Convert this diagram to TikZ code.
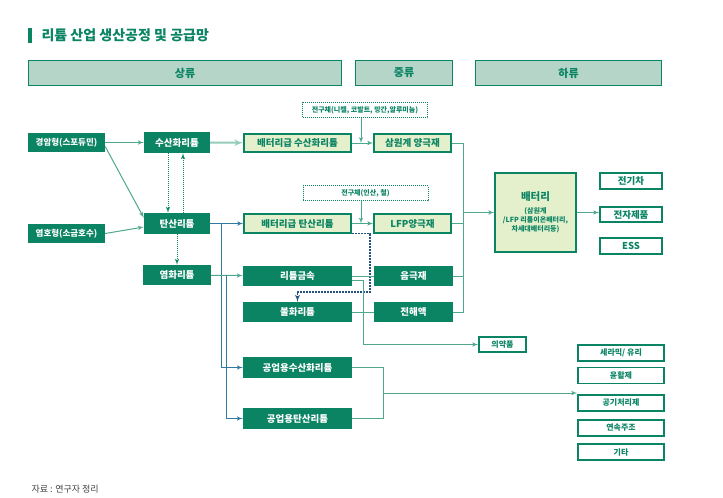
\documentclass[tikz,border=0pt]{standalone}
\usepackage{fontspec}
\setmainfont{Noto Sans CJK KR}
\usepackage{tikz}
\usetikzlibrary{arrows, shapes}

\definecolor{dkgreen}{HTML}{0B8464}
\definecolor{hdfill}{HTML}{B4D5C8}
\definecolor{ltfill}{HTML}{E4EFCB}
\definecolor{lnteal}{HTML}{4FA88E}
\definecolor{lnblue}{HTML}{2F7A9E}
\definecolor{dshblue}{HTML}{24527F}

\begin{document}
\begin{tikzpicture}[x=1pt, y=-1pt, >=latex']
\tikzstyle{dark} = [rectangle, fill=dkgreen, text=white, inner sep=0pt,
    minimum width=109pt, minimum height=20pt, font=\fontsize{9.5}{10}\bfseries]
\tikzstyle{grade} = [rectangle, draw=dkgreen, line width=1.6pt, fill=ltfill, text=dkgreen,
    inner sep=0pt, minimum width=107pt, minimum height=18pt, font=\fontsize{9.5}{10}\bfseries]
\tikzstyle{outbox} = [rectangle, draw=dkgreen, line width=1.6pt, fill=white, text=dkgreen,
    inner sep=0pt, minimum width=62pt, minimum height=16pt, font=\fontsize{9.5}{10}\bfseries]
\tikzstyle{usebox} = [outbox, minimum width=86pt, font=\fontsize{8}{9}\bfseries]
\tikzstyle{header} = [rectangle, draw=dkgreen, line width=1.2pt, fill=hdfill, text=dkgreen,
    inner sep=0pt, minimum height=25pt, font=\fontsize{11}{12}\bfseries]
\tikzstyle{precursor} = [rectangle, draw=dkgreen, densely dotted, line width=1pt, fill=white,
    text=dkgreen, inner sep=0pt, minimum width=125pt, minimum height=15pt,
    font=\fontsize{7}{8}\bfseries]
\tikzstyle{line} = [draw=lnteal, line width=1pt]
\tikzstyle{bline} = [draw=lnblue, line width=1pt]
\tikzstyle{dline} = [draw=dkgreen, densely dotted, line width=1pt]
\tikzstyle{dshline} = [draw=dshblue, dash pattern=on 2pt off 1pt, line width=1.3pt]

\useasboundingbox (0,0) rectangle (723,498);

 \fill [dkgreen] (28,28) rectangle (32,43);
 \node [anchor=west, text=dkgreen, font=\fontsize{14}{16}\bfseries] (title) at (38,35.5)
   {리튬 산업 생산공정 및 공급망};

 \node [header, minimum width=313pt] (up) at (185,73) {상류};
 \node [header, minimum width=97pt] (mid) at (404,73) {중류};
 \node [header, minimum width=186pt] (down) at (568.5,73) {하류};

 \node [dark, minimum width=77pt, minimum height=19pt, font=\fontsize{8.5}{9}\bfseries]
   (rock) at (66.5,142.5) {경암형(스포듀민)};
 \node [dark, minimum width=77pt, minimum height=19pt, font=\fontsize{8.5}{9}\bfseries]
   (brine) at (66.5,233.5) {염호형(소금호수)};

 \node [dark, minimum width=66pt, minimum height=21pt] (hydro) at (177,142.5) {수산화리튬};
 \node [dark, minimum width=66pt, minimum height=21pt] (carb) at (177,223.5) {탄산리튬};
 \node [dark, minimum width=68pt] (chlor) at (177,275) {염화리튬};

 \node [grade] (bathydro) at (297.5,143) {배터리급 수산화리튬};
 \node [grade, minimum height=19pt] (batcarb) at (297.5,223.5) {배터리급 탄산리튬};
 \node [dark] (metal) at (297.5,276) {리튬금속};
 \node [dark] (fluor) at (297.5,312) {불화리튬};
 \node [dark, minimum height=21pt] (indhydro) at (297.5,367.5) {공업용수산화리튬};
 \node [dark, minimum height=21pt] (indcarb) at (297.5,418.5) {공업용탄산리튬};

 \node [precursor] (pre1) at (365,110) {전구체(니켈, 코발트, 망간,알루미늄)};
 \node [precursor] (pre2) at (365.5,193) {전구체(인산, 철)};

 \node [grade, minimum width=77pt] (ncm) at (412.5,143) {삼원계 양극재};
 \node [grade, minimum width=77pt, minimum height=19pt] (lfp) at (412.5,223.5) {LFP양극재};
 \node [dark, minimum width=79pt] (anode) at (413.5,276) {음극재};
 \node [dark, minimum width=79pt] (elyte) at (413.5,312) {전해액};

 \node [grade, minimum width=81pt, minimum height=79pt, align=center] (battery) at (535.5,212.5)
   {{\fontsize{10.5}{12}\bfseries 배터리}\\[3pt]
    {\fontsize{7}{10}\bfseries (삼원계}\\[-1pt]
    {\fontsize{7}{10}\bfseries /LFP 리튬이온배터리,}\\[-1pt]
    {\fontsize{7}{10}\bfseries 차세대배터리등)}};

 \node [outbox] (ev) at (631,181) {전기차};
 \node [outbox, minimum height=15pt] (device) at (631,214.5) {전자제품};
 \node [outbox] (ess) at (631,246) {ESS};

 \node [outbox, minimum width=47pt, minimum height=15pt, font=\fontsize{8}{9}\bfseries]
   (medic) at (502.5,344.5) {의약품};

 \node [usebox] (glass) at (621,353) {세라믹/ 유리};
 \node [usebox] (lube) at (621,375.5) {윤활제};
 \node [usebox] (air) at (621,403) {공기처리제};
 \node [usebox] (cast) at (621,428) {연속주조};
 \node [usebox] (etc) at (621,452) {기타};

 \coordinate (m1) at (361,143);
 \coordinate (m2) at (361,223.5);
 \coordinate (b1) at (221,223.5);
 \coordinate (b2) at (226,275);
 \coordinate (d1) at (370,292);
 \coordinate (j) at (463,212.5);
 \coordinate (k) at (383,393);

 \path [line, ->] (rock) -- (hydro);
 \path [line, ->] ([yshift=-4pt]rock.east) -- ([yshift=-5pt]carb.north west);
 \path [line, ->] (brine.east) -- ([yshift=-3.5pt]carb.west);

 \path [dline, ->] ([xshift=-9pt]hydro.south) -- ([xshift=-9pt]carb.north);
 \path [dline, ->] ([xshift=6pt]carb.north) -- ([xshift=6pt]hydro.south);
 \path [dline, ->] (carb) -- (chlor);

 \path [draw=lnteal!60, line width=2pt, ->] (hydro) -- (bathydro);
 \path [line, ->] (bathydro) -- (ncm);
 \path [line, ->] (pre1.south -| m1) -- (m1);

 \path [bline, ->] (carb) -- (batcarb);
 \path [line, ->] (batcarb) -- (lfp);
 \path [line, ->] (pre2.south -| m2) -- (m2);

 \path [bline, ->] (b1) |- (indhydro.west);
 \path [line, ->] (chlor) -- (metal);
 \path [bline, ->] (b2) |- (indcarb.west);

 \path [dshline, ->] (batcarb.south east) -| (d1) -| (fluor.north);

 \path [line] (metal) -- (anode);
 \path [line, ->] ([yshift=-4pt]metal.east) -| ++(11,0) |- (medic.west);
 \path [line] (fluor) -- (elyte);

 \path [line] (ncm.east) -| (elyte.east -| j) -- (elyte.east);
 \path [line] (lfp.east) -- (lfp.east -| j);
 \path [line] (anode.east) -- (anode.east -| j);
 \path [line, ->] (j) -- (battery.west);
 \path [line, ->] (battery.east) -- (battery.east -| device.west);

 \path [line] (indhydro.east) -| (indcarb.east -| k) -- (indcarb.east);
 \path [line, ->] (k) -- (k -| air.west);

 \node [anchor=west, text=black!75, font=\fontsize{9}{10}\selectfont] (source) at (28,489)
   {자료 : 연구자 정리};
\end{tikzpicture}
\end{document}
